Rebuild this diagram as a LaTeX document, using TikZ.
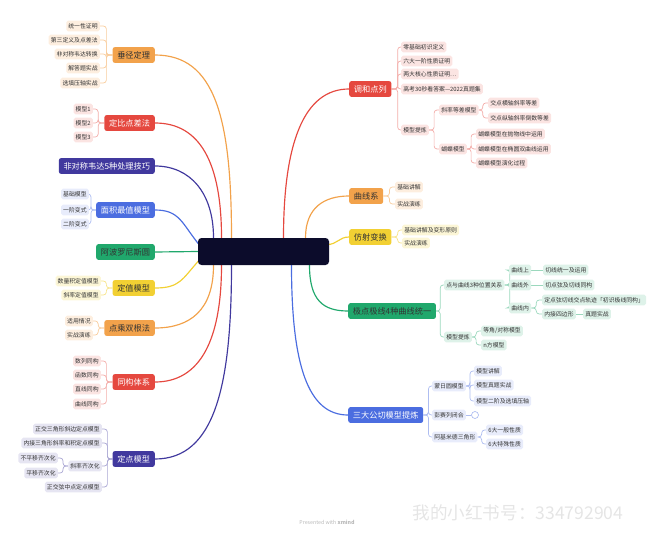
\documentclass[tikz,border=0pt]{standalone}
\usepackage{fontspec}
\setmainfont{Noto Sans CJK SC}
\usepackage{xcolor}
\usepackage{tikz}
\usetikzlibrary{positioning, backgrounds}

\definecolor{cOrg}{HTML}{F2A24B}
\definecolor{cRed}{HTML}{E5483F}
\definecolor{cInd}{HTML}{41399E}
\definecolor{cBlu}{HTML}{4B6DE0}
\definecolor{cGrn}{HTML}{20A86C}
\definecolor{cYel}{HTML}{F2D033}
\definecolor{cCore}{HTML}{0C0C2B}

\begin{document}
\begin{tikzpicture}[
      x=0.03cm, y=-0.03cm,
      every node/.style={font=\fontsize{5}{6}\selectfont, text=black!80},
      topic/.style={rounded corners=2pt, inner xsep=4pt, inner ysep=2pt, minimum height=13.5pt, font=\fontsize{7}{8}\selectfont},
      light/.style={text=white},
      leaf/.style={rounded corners=1.5pt, inner sep=1.8pt, minimum height=9pt},
      lf/.style={leaf, anchor=east, fill=#1},
      rf/.style={leaf, anchor=west, fill=#1},
      branch/.style={draw=#1, line width=1pt},
      twig/.style={draw=#1, line width=0.6pt, rounded corners=2.5pt}
    ]
      \useasboundingbox (0,0) rectangle (656,540);

      % centre
      \node[fill=cCore, rounded corners=3pt, minimum width=3.93cm, minimum height=0.81cm] (core) at (263.5,251.5) {};

      % left topics
      \node[topic, anchor=east, fill=cOrg] (jj) at (155,55) {垂径定理};
      \node[topic, anchor=east, fill=cRed, light] (db) at (155,123) {定比点差法};
      \node[topic, anchor=east, fill=cInd, light] (fd) at (155,166) {非对称韦达5种处理技巧};
      \node[topic, anchor=east, fill=cBlu, light] (mj) at (155,210) {面积最值模型};
      \node[topic, anchor=east, fill=cGrn] (ab) at (155,252) {阿波罗尼斯圆};
      \node[topic, anchor=east, fill=cYel] (dz) at (155,288) {定值模型};
      \node[topic, anchor=east, fill=cOrg] (dc) at (155,328) {点乘双根法};
      \node[topic, anchor=east, fill=cRed, light] (tg) at (155,382) {同构体系};
      \node[topic, anchor=east, fill=cInd, light] (dd) at (155,459) {定点模型};

      % right topics
      \node[topic, anchor=west, fill=cRed, light] (hd) at (349,89) {调和点列};
      \node[topic, anchor=west, fill=cOrg] (qx) at (349,196) {曲线系};
      \node[topic, anchor=west, fill=cYel] (fs) at (349,237) {仿射变换};
      \node[topic, anchor=west, fill=cGrn] (jd) at (348,311) {极点极线4种曲线统一};
      \node[topic, anchor=west, fill=cBlu, light] (sd) at (348,415) {三大公切模型提炼};

      % left leaves
      \node[lf=cOrg!18] (jj1) at (100,26) {统一性证明};
      \node[lf=cOrg!18] (jj2) at (100,40) {第三定义及点差法};
      \node[lf=cOrg!18] (jj3) at (100,54) {非对称韦达转换};
      \node[lf=cOrg!18] (jj4) at (100,68) {解答题实战};
      \node[lf=cOrg!18] (jj5) at (100,83) {选填压轴实战};
      \node[lf=cRed!15] (db1) at (93,109) {模型1};
      \node[lf=cRed!15] (db2) at (93,123) {模型2};
      \node[lf=cRed!15] (db3) at (93,137) {模型3};
      \node[lf=cBlu!13] (mj1) at (89,194) {基础模型};
      \node[lf=cBlu!13] (mj2) at (89,210) {一阶变式};
      \node[lf=cBlu!13] (mj3) at (89,224) {二阶变式};
      \node[lf=cYel!20] (dz1) at (101,281) {数量积定值模型};
      \node[lf=cYel!20] (dz2) at (101,295) {斜率定值模型};
      \node[lf=cOrg!18] (dc1) at (93,321) {适用情况};
      \node[lf=cOrg!18] (dc2) at (93,335) {实战演练};
      \node[lf=cRed!15] (tg1) at (101,361) {数列同构};
      \node[lf=cRed!15] (tg2) at (101,375) {函数同构};
      \node[lf=cRed!15] (tg3) at (101,389) {直线同构};
      \node[lf=cRed!15] (tg4) at (101,404) {曲线同构};
      \node[lf=cInd!13] (dd1) at (102,429) {正交三角形斜边定点模型};
      \node[lf=cInd!13] (dd2) at (102,443) {内接三角形斜率和积定点模型};
      \node[lf=cInd!13] (dd3) at (102,466) {斜率齐次化};
      \node[lf=cInd!13] (dd4) at (102,487) {正交弦中点定点模型};
      \node[lf=cInd!13] (dd31) at (58,458) {不平移齐次化};
      \node[lf=cInd!13] (dd32) at (58,473) {平移齐次化};

      % right leaves
      \node[rf=cRed!15] (hd1) at (401,47) {零基础初识定义};
      \node[rf=cRed!15] (hd2) at (401,61) {六大一阶性质证明};
      \node[rf=cRed!15] (hd3) at (401,74) {两大核心性质证明…};
      \node[rf=cRed!15] (hd4) at (401,89) {高考30秒看答案—2022真题集};
      \node[rf=cRed!15] (hd5) at (401,130) {模型提炼};
      \node[rf=cRed!15] (hd51) at (439,110) {斜率等差模型};
      \node[rf=cRed!15] (hd52) at (439,149) {蝴蝶模型};
      \node[rf=cRed!15] (hd511) at (488,103) {交点横轴斜率等差};
      \node[rf=cRed!15] (hd512) at (488,118) {交点纵轴斜率倒数等差};
      \node[rf=cRed!15] (hd521) at (476,134) {蝴蝶模型在抛物线中运用};
      \node[rf=cRed!15] (hd522) at (476,149) {蝴蝶模型在椭圆双曲线运用};
      \node[rf=cRed!15] (hd523) at (476,163) {蝴蝶模型演化过程};
      \node[rf=cOrg!18] (qx1) at (395,187) {基础讲解};
      \node[rf=cOrg!18] (qx2) at (395,204) {实战演练};
      \node[rf=cYel!20] (fs1) at (402,230) {基础讲解及变形原则};
      \node[rf=cYel!20] (fs2) at (402,243) {实战演练};
      \node[rf=cGrn!15] (jd1) at (444,285) {点与曲线3种位置关系};
      \node[rf=cGrn!15] (jd2) at (444,337) {模型提炼};
      \node[rf=cGrn!15] (jd11) at (509,270) {曲线上};
      \node[rf=cGrn!15] (jd12) at (509,285) {曲线外};
      \node[rf=cGrn!15] (jd13) at (509,308) {曲线内};
      \node[rf=cGrn!15] (jd111) at (543,270) {切线统一及运用};
      \node[rf=cGrn!15] (jd121) at (543,285) {切点弦及切线同构};
      \node[rf=cGrn!15] (jd131) at (542,300) {定点弦切线交点轨迹「初识极线同构」};
      \node[rf=cGrn!15] (jd132) at (542,314) {内接四边形};
      \node[rf=cGrn!15] (jd1321) at (583,314) {真题实战};
      \node[rf=cGrn!15] (jd21) at (481,331) {等角/对称模型};
      \node[rf=cGrn!15] (jd22) at (481,345) {n方模型};
      \node[rf=cBlu!13] (sd1) at (432,386) {蒙日圆模型};
      \node[rf=cBlu!13] (sd2) at (432,415) {彭赛列闭合};
      \node[rf=cBlu!13] (sd3) at (432,437) {阿基米德三角形};
      \node[circle, draw=cBlu!50, line width=0.5pt, fill=white, inner sep=0pt, minimum size=6pt] (sdx) at (475,415) {};
      \node[rf=cBlu!13] (sd11) at (474,371) {模型讲解};
      \node[rf=cBlu!13] (sd12) at (474,385) {模型真题实战};
      \node[rf=cBlu!13] (sd13) at (474,401) {模型二阶及选填压轴};
      \node[rf=cBlu!13] (sd31) at (486,430) {6大一般性质};
      \node[rf=cBlu!13] (sd32) at (486,444) {6大特殊性质};

      % footer
      \node[text=black!28, font=\fontsize{4.5}{5}\selectfont] (mark) at (327,522) {Presented with \textbf{xmind}};
      \node[text=black!10, font=\fontsize{15}{17}\selectfont] (note) at (518,513) {我的小红书号：334792904};

      \begin{scope}[on background layer]
        % main branches
        \draw[branch=cOrg] (core.north) ++(-32,0) .. controls +(0,-120) and +(60,0) .. (jj.east);
        \draw[branch=cRed] (core.north) ++(-42,0) .. controls +(0,-75) and +(45,0) .. (db.east);
        \draw[branch=cInd] (core.north) ++(-50,0) .. controls +(0,-45) and +(35,0) .. (fd.east);
        \draw[branch=cBlu] (core.west) ++(2,-6) .. controls +(-18,-22) and +(25,0) .. (mj.east);
        \draw[branch=cGrn] (core.west) -- (ab.east);
        \draw[branch=cYel] (core.west) ++(2,8) .. controls +(-18,20) and +(25,0) .. (dz.east);
        \draw[branch=cOrg] (core.south) ++(-50,0) .. controls +(0,45) and +(35,0) .. (dc.east);
        \draw[branch=cRed] (core.south) ++(-42,0) .. controls +(0,75) and +(45,0) .. (tg.east);
        \draw[branch=cInd] (core.south) ++(-32,0) .. controls +(0,120) and +(60,0) .. (dd.east);
        \draw[branch=cRed] (core.north) ++(20,0) .. controls +(0,-95) and +(-45,0) .. (hd.west);
        \draw[branch=cOrg] (core.north) ++(42,0) .. controls +(0,-30) and +(-25,0) .. (qx.west);
        \draw[branch=cYel] (core.east) ++(-2,-7) .. controls +(10,0) and +(-10,0) .. (fs.west);
        \draw[branch=cGrn] (core.south) ++(46,0) .. controls +(0,35) and +(-25,0) .. (jd.west);
        \draw[branch=cBlu] (core.south) ++(28,0) .. controls +(0,100) and +(-40,0) .. (sd.west);

        % sub branches, left
        \foreach \k in {jj1,jj2,jj3,jj4,jj5} \draw[twig=cOrg!55] (jj.west) -- ++(-6,0) |- (\k.east);
        \foreach \k in {db1,db2,db3} \draw[twig=cRed!45] (db.west) -- ++(-6,0) |- (\k.east);
        \foreach \k in {mj1,mj2,mj3} \draw[twig=cBlu!45] (mj.west) -- ++(-5,0) |- (\k.east);
        \foreach \k in {dz1,dz2} \draw[twig=cYel!60] (dz.west) -- ++(-6,0) |- (\k.east);
        \foreach \k in {dc1,dc2} \draw[twig=cOrg!55] (dc.west) -- ++(-6,0) |- (\k.east);
        \foreach \k in {tg1,tg2,tg3,tg4} \draw[twig=cRed!45] (tg.west) -- ++(-6,0) |- (\k.east);
        \foreach \k in {dd1,dd2,dd3,dd4} \draw[twig=cInd!45] (dd.west) -- ++(-5,0) |- (\k.east);
        \foreach \k in {dd31,dd32} \draw[twig=cInd!45] (dd3.west) -- ++(-5,0) |- (\k.east);

        % sub branches, right
        \foreach \k in {hd1,hd2,hd3,hd4,hd5} \draw[twig=cRed!45] (hd.east) -- ++(6,0) |- (\k.west);
        \foreach \k in {hd51,hd52} \draw[twig=cRed!45] (hd5.east) -- ++(5,0) |- (\k.west);
        \foreach \k in {hd511,hd512} \draw[twig=cRed!45] (hd51.east) -- ++(4,0) |- (\k.west);
        \foreach \k in {hd521,hd522,hd523} \draw[twig=cRed!45] (hd52.east) -- ++(4,0) |- (\k.west);
        \foreach \k in {qx1,qx2} \draw[twig=cOrg!55] (qx.east) -- ++(6,0) |- (\k.west);
        \foreach \k in {fs1,fs2} \draw[twig=cYel!60] (fs.east) -- ++(6,0) |- (\k.west);
        \foreach \k in {jd1,jd2} \draw[twig=cGrn!45] (jd.east) -- ++(4,0) |- (\k.west);
        \foreach \k in {jd11,jd12,jd13} \draw[twig=cGrn!45] (jd1.east) -- ++(5,0) |- (\k.west);
        \foreach \k in {jd131,jd132} \draw[twig=cGrn!45] (jd13.east) -- ++(5,0) |- (\k.west);
        \foreach \k in {jd21,jd22} \draw[twig=cGrn!45] (jd2.east) -- ++(4,0) |- (\k.west);
        \draw[twig=cGrn!45] (jd11) -- (jd111);
        \draw[twig=cGrn!45] (jd12) -- (jd121);
        \draw[twig=cGrn!45] (jd132) -- (jd1321);
        \foreach \k in {sd1,sd2,sd3} \draw[twig=cBlu!45] (sd.east) -- ++(5,0) |- (\k.west);
        \foreach \k in {sd11,sd12,sd13} \draw[twig=cBlu!45] (sd1.east) -- ++(4,0) |- (\k.west);
        \foreach \k in {sd31,sd32} \draw[twig=cBlu!45] (sd3.east) -- ++(4,0) |- (\k.west);
        \draw[twig=cBlu!45] (sd2) -- (sdx);
      \end{scope}
    \end{tikzpicture}
\end{document}
